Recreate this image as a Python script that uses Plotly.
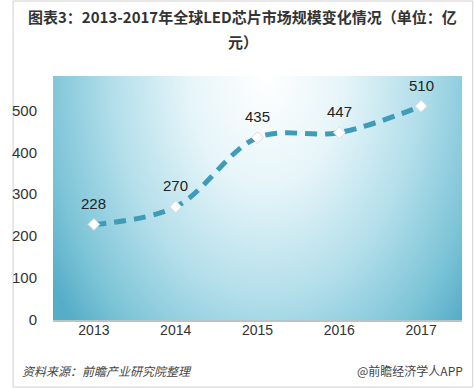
import base64
import plotly.graph_objects as go

years = ["2013", "2014", "2015", "2016", "2017"]
values = [228, 270, 435, 447, 510]
y_ticks = [0, 100, 200, 300, 400, 500]

title_line1 = "图表3：2013-2017年全球LED芯片市场规模变化情况（单位：亿"
title_line2 = "元）"
source_text = "资料来源：前瞻产业研究院整理"
brand_text = "@前瞻经济学人APP"

W, H = 474, 388
L, R, T, B = 42, 12, 76, 68
pw, ph = W - L - R, H - T - B

svg = f'''<svg xmlns="http://www.w3.org/2000/svg" width="{pw}" height="{ph}" viewBox="0 0 {pw} {ph}" preserveAspectRatio="none">
<defs>
<radialGradient id="g" gradientUnits="userSpaceOnUse" cx="{pw*0.52:.1f}" cy="0" r="265"
 gradientTransform="scale(1 1.4)">
<stop offset="0" stop-color="#ffffff"/>
<stop offset="0.3" stop-color="#e6f5f9"/>
<stop offset="0.6" stop-color="#b2deea"/>
<stop offset="0.85" stop-color="#7cc4d7"/>
<stop offset="1" stop-color="#56adc7"/>
</radialGradient>
</defs>
<rect x="0" y="0" width="{pw}" height="{ph}" fill="url(#g)"/>
</svg>'''
src = "data:image/svg+xml;base64," + base64.b64encode(svg.encode()).decode()

fig = go.Figure()
fig.add_trace(go.Scatter(
    x=years, y=values, mode="lines+markers",
    line=dict(color="#3f9cb9", width=5, dash="12px,8px", shape="spline", smoothing=1.0),
    marker=dict(symbol="diamond", size=9, color="white", line=dict(color="#dddddd", width=1)),
    hoverinfo="skip", showlegend=False,
))

for i, yv in enumerate(values):
    fig.add_annotation(x=i, y=yv, text=str(yv), showarrow=False, yshift=21,
                       font=dict(family="Liberation Sans, Arial", size=15, color="#222"))

# title
fig.add_annotation(xref="paper", yref="paper", x=(237 - L) / pw, y=(H - B - 17) / ph,
                   text="<b>" + title_line1 + "</b>", showarrow=False, xanchor="center", yanchor="middle",
                   font=dict(family="Noto Sans CJK SC", size=15, color="#333"))
fig.add_annotation(xref="paper", yref="paper", x=(237 - L) / pw, y=(H - B - 42) / ph,
                   text="<b>" + title_line2 + "</b>", showarrow=False, xanchor="center", yanchor="middle",
                   font=dict(family="Noto Sans CJK SC", size=15, color="#333"))
# footer
fig.add_annotation(xref="paper", yref="paper", x=(8 - L) / pw, y=(H - B - 370) / ph,
                   text="<i>" + source_text + "</i>", showarrow=False, xanchor="left", yanchor="middle",
                   font=dict(family="Noto Sans CJK SC", size=12, color="#444"))
fig.add_annotation(xref="paper", yref="paper", x=(465 - L) / pw, y=(H - B - 370) / ph,
                   text=brand_text, showarrow=False, xanchor="right", yanchor="middle",
                   font=dict(family="Noto Sans CJK SC", size=12, color="#444"))

fig.add_layout_image(dict(source=src, xref="paper", yref="paper", x=0, y=1, sizex=1, sizey=1,
                          xanchor="left", yanchor="top", sizing="stretch", layer="below"))

# image border
fig.add_shape(type="rect", xref="paper", yref="paper",
              x0=(1 - L) / pw, x1=(W - 1 - L) / pw, y0=(H - B - (H - 1)) / ph, y1=(H - B - 1) / ph,
              line=dict(color="#d0d0d0", width=1), fillcolor="rgba(0,0,0,0)", layer="below")
# plot bottom shadow
fig.add_shape(type="line", xref="paper", yref="paper", x0=0, x1=1, y0=-0.004, y1=-0.004,
              line=dict(color="#b9c4c8", width=2), layer="below")

fig.update_layout(
    width=W, height=H,
    margin=dict(l=L, r=R, t=T, b=B, pad=0),
    paper_bgcolor="white", plot_bgcolor="rgba(0,0,0,0)",
    xaxis=dict(type="category", range=[-0.5, 4.5], showgrid=False, zeroline=False, showline=False,
               ticks="", tickfont=dict(family="Liberation Sans, Arial", size=14, color="#333"),
               fixedrange=True),
    yaxis=dict(range=[0, 582], tickvals=y_ticks, showgrid=False, zeroline=False, showline=False,
               ticks="outside", ticklen=12, tickcolor="rgba(0,0,0,0)",
               tickfont=dict(family="Liberation Sans, Arial", size=15, color="#333"),
               fixedrange=True),
)

fig.write_html("out.html", config={"displayModeBar": False},
               post_script="document.body.style.margin='0';document.body.style.padding='0';")
